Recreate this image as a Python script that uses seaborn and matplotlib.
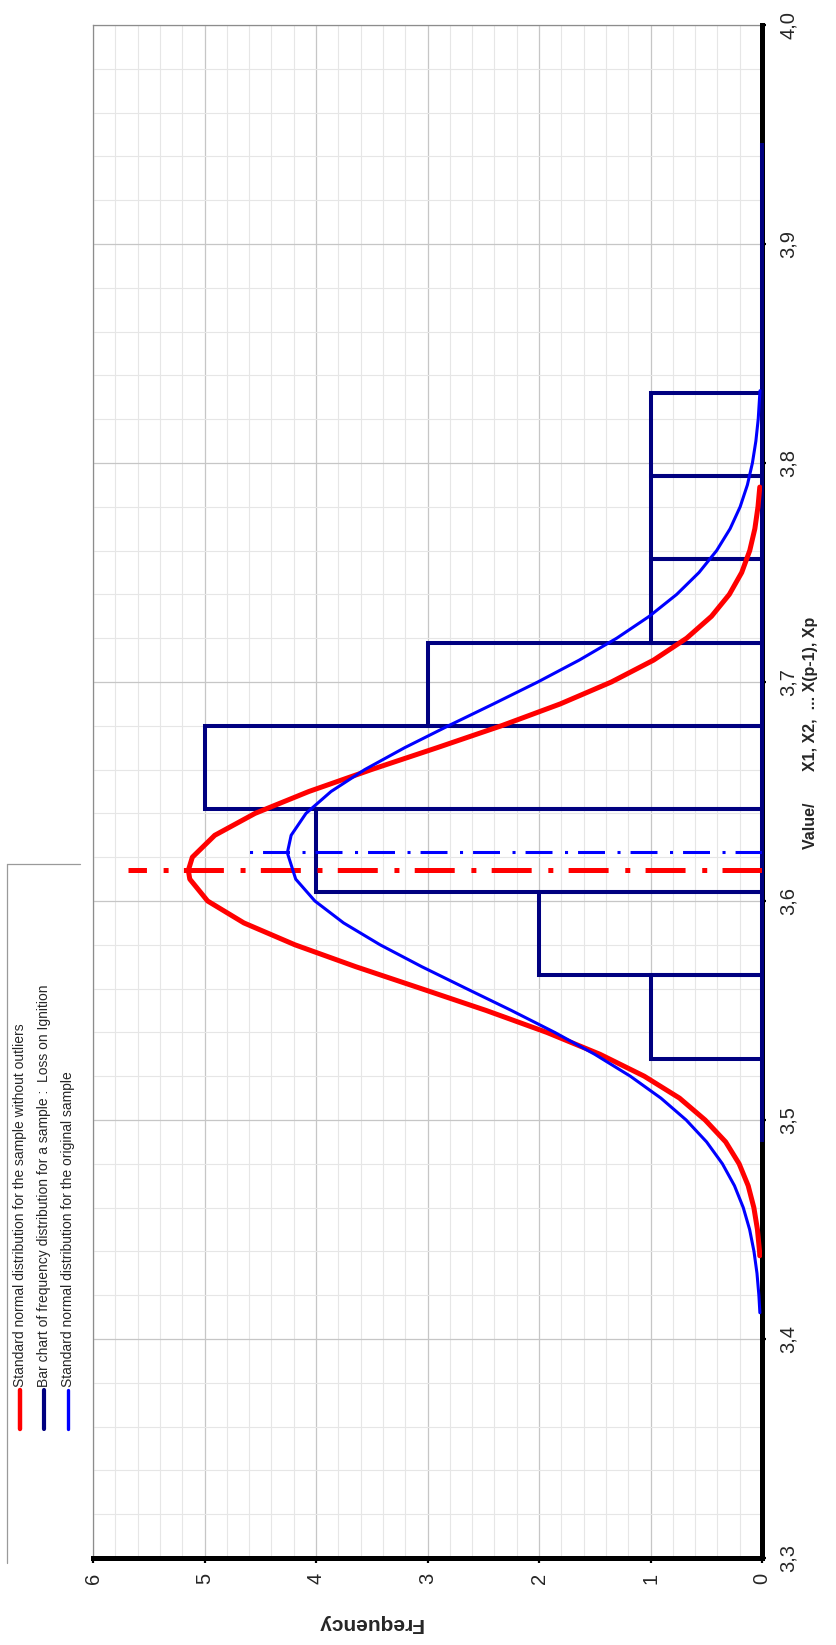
import numpy as np
import matplotlib
matplotlib.use("Agg")
import matplotlib.pyplot as plt
from matplotlib.lines import Line2D
from matplotlib.ticker import FixedLocator, MultipleLocator
import seaborn as sns

# ---- data -------------------------------------------------------------
bin_edges = [3.490, 3.528, 3.566, 3.604, 3.642, 3.680, 3.718,
             3.756, 3.794, 3.832, 3.870, 3.908, 3.946]
bin_counts = [0, 1, 2, 4, 5, 3, 1, 1, 1, 0, 0, 0]

# normal curve, sample without outliers
red_value = [3.438, 3.44, 3.45, 3.46, 3.47, 3.48, 3.49, 3.50, 3.51, 3.52,
             3.53, 3.54, 3.55, 3.56, 3.57, 3.58, 3.59, 3.60, 3.61, 3.614,
             3.62, 3.63, 3.64, 3.65, 3.66, 3.67, 3.68, 3.69, 3.70, 3.71,
             3.72, 3.73, 3.74, 3.75, 3.76, 3.77, 3.78, 3.789]
red_freq = [0.020, 0.022, 0.041, 0.073, 0.124, 0.205, 0.326, 0.510, 0.740,
            1.056, 1.453, 1.930, 2.473, 3.056, 3.643, 4.189, 4.647, 4.972,
            5.132, 5.145, 5.109, 4.908, 4.547, 4.064, 3.504, 2.914, 2.338,
            1.809, 1.351, 0.972, 0.676, 0.453, 0.293, 0.182, 0.110, 0.064,
            0.036, 0.020]

# normal curve, original sample
blue_value = [3.412, 3.42, 3.43, 3.44, 3.45, 3.46, 3.47, 3.48, 3.49, 3.50,
              3.51, 3.52, 3.53, 3.54, 3.55, 3.56, 3.57, 3.58, 3.59, 3.60,
              3.61, 3.622, 3.63, 3.64, 3.65, 3.66, 3.67, 3.68, 3.69, 3.70,
              3.71, 3.72, 3.73, 3.74, 3.75, 3.76, 3.77, 3.78, 3.79, 3.80,
              3.81, 3.82, 3.833]
blue_freq = [0.019, 0.028, 0.045, 0.072, 0.111, 0.168, 0.247, 0.355, 0.497,
             0.680, 0.907, 1.181, 1.500, 1.859, 2.247, 2.651, 3.051, 3.425,
             3.753, 4.010, 4.182, 4.257, 4.223, 4.090, 3.865, 3.563, 3.205,
             2.813, 2.408, 2.011, 1.639, 1.303, 1.011, 0.765, 0.565, 0.407,
             0.286, 0.196, 0.131, 0.086, 0.055, 0.034, 0.018]

# means (dash-dot markers)
red_mean = 3.614
red_mean_top = 5.69
blue_mean = 3.6225
blue_mean_top = 4.69

freq_ticks = [0, 1, 2, 3, 4, 5, 6]
value_ticks = [3.3, 3.4, 3.5, 3.6, 3.7, 3.8, 3.9, 4.0]
value_labels = ["3,3", "3,4", "3,5", "3,6", "3,7", "3,8", "3,9", "4,0"]

legend_labels = [
    "Standard normal distribution for the sample without outliers",
    "Bar chart of frequency distribution for a sample :  Loss on Ignition",
    "Standard normal distribution for the original sample",
]

RED = "#FF0000"
NAVY = "#000080"
BLUE = "#0000FF"

# ---- style ------------------------------------------------------------
sns.set_theme(style="white")
plt.rcParams["font.family"] = ["Liberation Sans", "DejaVu Sans"]
plt.rcParams["lines.scale_dashes"] = False

W, H = 836, 1645
fig = plt.figure(figsize=(W / 100, H / 100), dpi=100)
fig.patch.set_facecolor("white")


def fx(px):
    return px / W


def fy(py):
    return 1 - py / H


ax = fig.add_axes([fx(93), fy(1558), fx(762) - fx(93), fy(25) - fy(1558)])
ax.set_facecolor("white")

# frequency runs right-to-left, value runs bottom-to-top
ax.set_xlim(6, 0)
ax.set_ylim(3.3, 4.0)

ax.xaxis.set_major_locator(FixedLocator(freq_ticks))
ax.xaxis.set_minor_locator(MultipleLocator(0.2))
ax.yaxis.set_major_locator(FixedLocator(value_ticks))
ax.yaxis.set_minor_locator(MultipleLocator(0.02))
ax.set_yticklabels(value_labels)

ax.grid(which="major", color="#c6c6c6", linewidth=0.9, zorder=0)
ax.grid(which="minor", color="#e6e6e6", linewidth=0.8, zorder=0)
ax.set_axisbelow(True)

# histogram bars (outline only)
lefts = bin_edges[:-1]
heights = np.diff(bin_edges)
ax.barh(lefts, bin_counts, height=heights, align="edge", fill=False,
        edgecolor=NAVY, linewidth=2.9, zorder=4, clip_on=False)

# normal curves
sns.lineplot(x=red_freq, y=red_value, orient="y", sort=False, estimator=None,
             color=RED, linewidth=3.6, ax=ax, zorder=5)
sns.lineplot(x=blue_freq, y=blue_value, orient="y", sort=False, estimator=None,
             color=BLUE, linewidth=2.2, ax=ax, zorder=6)

# mean markers
ax.plot([0, red_mean_top], [red_mean, red_mean], color=RED, linewidth=3.6,
        linestyle=(0, (28.8, 11, 3.6, 12)), zorder=5)
ax.plot([0, blue_mean_top], [blue_mean, blue_mean], color=BLUE, linewidth=2.2,
        linestyle=(0, (19.4, 7.2, 2.2, 9)), zorder=6)

ax.set_xlabel("")
ax.set_ylabel("")

# spines: axis lines black and heavy, plot-area border thin grey
for side in ("top", "left"):
    ax.spines[side].set_color("#8c8c8c")
    ax.spines[side].set_linewidth(0.9)
for side in ("bottom", "right"):
    ax.spines[side].set_color("black")
    ax.spines[side].set_linewidth(3.6)
    ax.spines[side].set_zorder(3)

ax.yaxis.tick_right()
ax.tick_params(axis="x", which="major", direction="out", length=3.6, width=1.6,
               color="black", labelsize=14.5, labelrotation=90, pad=7,
               bottom=True, top=False)
ax.tick_params(axis="y", which="major", direction="out", length=3.0, width=1.6,
               color="black", labelsize=14.5, labelrotation=90, pad=9,
               right=True, left=False)
ax.tick_params(which="minor", length=0)
for lab in ax.get_yticklabels():
    lab.set_va("center")
    lab.set_ha("left")

# axis titles
fig.text(fx(370), fy(1624), "Frequency", rotation=180, ha="center",
         va="center", fontsize=15, fontweight="bold")
fig.text(fx(810), fy(733), "Value/       X1, X2,  ... X(p-1), Xp",
         rotation=90, ha="center", va="center", fontsize=11.5,
         fontweight="bold")

# legend, rotated with the chart
fig.add_artist(Line2D([fx(7), fx(7)], [fy(864), fy(1563)], color="#9a9a9a",
                      linewidth=0.9))
fig.add_artist(Line2D([fx(7), fx(80)], [fy(864), fy(864)], color="#9a9a9a",
                      linewidth=0.9))
legend_x = [20, 44, 68]
legend_colors = [RED, NAVY, BLUE]
legend_widths = [3.2, 3.0, 2.4]
for xpx, col, lw, text in zip(legend_x, legend_colors, legend_widths,
                              legend_labels):
    fig.add_artist(Line2D([fx(xpx), fx(xpx)], [fy(1390), fy(1429)],
                          color=col, linewidth=lw, solid_capstyle="round"))
    fig.text(fx(xpx), fy(1387), text, rotation=90, ha="center", va="bottom",
             fontsize=10)

fig.savefig("out.png", dpi=100, facecolor="white")
